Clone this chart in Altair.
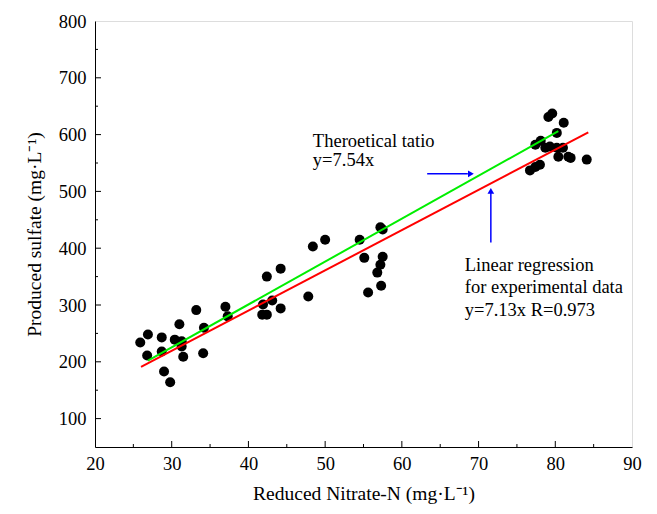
import altair as alt
import pandas as pd

# Measured data (Reduced Nitrate-N, Produced sulfate)
nitrate = [25.9, 26.9, 26.8, 28.7, 28.7, 30.4, 31.0, 31.3, 31.3, 31.5, 29.0, 29.8, 34.2, 34.1, 33.2,
           37.0, 37.3, 41.9, 43.1, 41.8, 42.4, 42.4, 44.2, 44.2, 47.8,
           48.4, 50.0, 54.5, 55.1, 57.5, 57.2, 57.5, 57.2, 56.8, 57.3, 55.6,
           79.1, 79.6, 81.1, 80.2, 77.4, 78.1, 78.7, 79.3, 80.2, 80.4, 81.0, 81.7, 82.0, 84.1,
           77.4, 78.0, 76.7]
sulfate = [234, 248, 211, 243, 218, 239, 266, 236, 227, 209, 183, 164, 260, 215, 291,
           297, 280, 301, 308, 283, 350, 283, 364, 294, 315,
           403, 415, 415, 383, 433, 437, 385, 371, 357, 334, 322,
           631, 637, 621, 603, 582, 589, 577, 579, 577, 561, 577, 561, 559, 556,
           543, 547, 537]

# Fitted lines (endpoints)
theo_x = [26.9, 80.4]
theo_y = [202, 606]
reg_x = [26.0, 84.3]
reg_y = [191, 604]

x_ticks = [20, 30, 40, 50, 60, 70, 80, 90]
y_ticks = [100, 200, 300, 400, 500, 600, 700, 800]
x_major_in = [30, 40, 50, 60, 70, 80]
x_minor_in = [25, 35, 45, 55, 65, 75, 85]
y_major_in = [100, 200, 300, 400, 500, 600, 700]
y_minor_in = [150, 250, 350, 450, 550, 650, 750]

W, H = 537, 426
FONT = "Liberation Serif"
xs = alt.Scale(domain=[20, 90], nice=False, zero=False)
ys = alt.Scale(domain=[50, 800], nice=False, zero=False)

xaxis = alt.Axis(values=x_ticks, title="Reduced Nitrate-N (mg·L⁻¹)", labelPadding=7,
                 titlePadding=12)
yaxis = alt.Axis(values=y_ticks, title="Produced sulfate (mg·L⁻¹)", labelPadding=9,
                 titlePadding=14)


def X(f):
    return alt.X(f, scale=xs, axis=xaxis)


def Y(f):
    return alt.Y(f, scale=ys, axis=yaxis)


pts = pd.DataFrame({"x": nitrate, "y": sulfate})
points = alt.Chart(pts).mark_circle(size=100, color="black", opacity=1).encode(
    x=X("x:Q"), y=Y("y:Q"))


def line(xv, yv, color):
    df = pd.DataFrame({"x": xv, "y": yv})
    return alt.Chart(df).mark_line(color=color, strokeWidth=2).encode(x=X("x:Q"), y=Y("y:Q"))


green = line(theo_x, theo_y, "#00ee00")
red = line(reg_x, reg_y, "#ff0000")


# inward ticks
def xticks(vals, length):
    return alt.Chart(pd.DataFrame({"x": vals})).mark_rule(color="black").encode(
        x=X("x:Q"), y=alt.value(H), y2=alt.value(H - length))


def yticks(vals, length):
    return alt.Chart(pd.DataFrame({"y": vals})).mark_rule(color="black").encode(
        y=Y("y:Q"), x=alt.value(0), x2=alt.value(length))


# arrows
arr_h = alt.Chart(pd.DataFrame({"x": [63.3], "x2": [68.6], "y": [531]})).mark_rule(
    color="blue", strokeWidth=1.5).encode(x=X("x:Q"), x2="x2:Q", y=Y("y:Q"))
head_h = alt.Chart(pd.DataFrame({"x": [69.0], "y": [531]})).mark_point(
    shape="triangle-right", filled=True, color="blue", size=45, opacity=1).encode(
    x=X("x:Q"), y=Y("y:Q"))
arr_v = alt.Chart(pd.DataFrame({"x": [71.6], "y": [410], "y2": [497]})).mark_rule(
    color="blue", strokeWidth=1.5).encode(x=X("x:Q"), y=Y("y:Q"), y2="y2:Q")
head_v = alt.Chart(pd.DataFrame({"x": [71.6], "y": [501]})).mark_point(
    shape="triangle-up", filled=True, color="blue", size=45, opacity=1).encode(
    x=X("x:Q"), y=Y("y:Q"))

labels = pd.DataFrame({
    "x": [48.4, 48.4, 68.2, 68.2, 68.2],
    "y": [589, 556, 370, 331, 292],
    "t": ["Theroetical tatio", "y=7.54x", "Linear regression",
          "for experimental data", "y=7.13x R=0.973"],
})
texts = alt.Chart(labels).mark_text(align="left", baseline="middle", font=FONT,
                                     fontSize=18.5, color="black").encode(
    x=X("x:Q"), y=Y("y:Q"), text="t:N")

chart = alt.layer(
    points, xticks(x_major_in, 6), xticks(x_minor_in, 3), yticks(y_major_in, 6), yticks(y_minor_in, 3),
    green, red, arr_h, head_h, arr_v, head_v, texts,
).properties(
    width=W, height=H,
    autosize=alt.AutoSizeParams(type="none"),
    padding={"left": 95, "top": 21, "right": 25, "bottom": 67},
).configure_view(stroke="black", strokeWidth=1).configure(
    background="white", font=FONT
).configure_axis(
    labelFont=FONT, titleFont=FONT, labelFontSize=18.5, titleFontSize=19.5,
    titleFontWeight="normal", labelColor="black", titleColor="black",
    domainColor="black", grid=False, tickSize=0, labelFlush=False, labelOverlap=False,
)

chart.save("out.html", embed_options={"renderer": "svg", "actions": False})
